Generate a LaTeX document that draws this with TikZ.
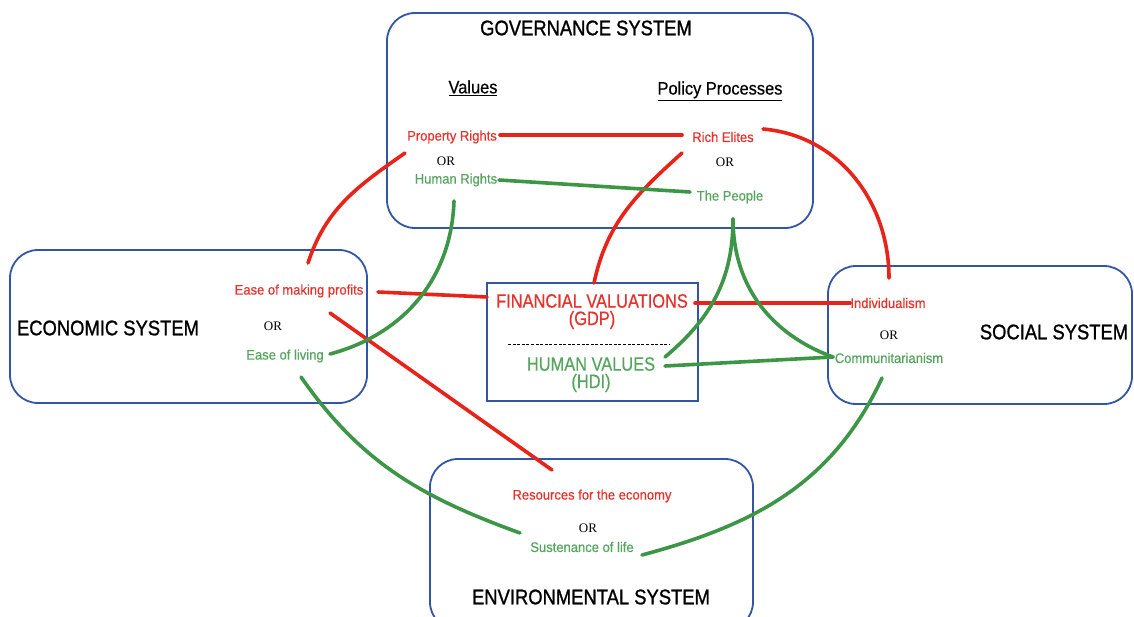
\documentclass[tikz,border=0pt]{standalone}
\usepackage{fontspec}
\setmainfont{Liberation Sans}
\newfontfamily\orfont{Liberation Serif}
\newfontfamily\titlefont[FakeBold=1.2]{Liberation Sans}
\newfontfamily\labfont[FakeBold=0.5]{Liberation Sans}
\usetikzlibrary{calc}
\definecolor{boxblue}{RGB}{50,85,165}
\definecolor{tred}{RGB}{228,50,45}
\definecolor{lred}{RGB}{232,35,25}
\definecolor{tgreen}{RGB}{85,165,95}
\definecolor{lgreen}{RGB}{60,150,70}
\newcommand\vstretchtxt[2]{\scalebox{1}[#1]{#2}}
\begin{document}
\begin{tikzpicture}[x=1pt,y=-1pt,
 sysbox/.style={draw=boxblue, line width=1.8pt, rounded corners=28pt},
 ctrbox/.style={draw=boxblue, line width=1.8pt},
 title/.style={font=\titlefont\fontsize{18.4}{20}\selectfont, inner sep=0pt},
 lab/.style={font=\labfont\fontsize{13}{15}\selectfont, inner sep=0pt},
 redlab/.style={lab, text=tred},
 greenlab/.style={lab, text=tgreen},
 orlab/.style={font=\orfont\fontsize{13}{15}\selectfont, inner sep=0pt},
 head/.style={font=\labfont\fontsize{16.4}{18}\selectfont, inner sep=0pt},
 ctrred/.style={font=\labfont\fontsize{16.4}{18}\selectfont, inner sep=0pt, text=tred},
 ctrgreen/.style={font=\labfont\fontsize{16.4}{18}\selectfont, inner sep=0pt, text=tgreen},
 rline/.style={draw=lred, line width=3.6pt, line cap=round},
 gline/.style={draw=lgreen, line width=3.6pt, line cap=round},
 dline/.style={draw=black, line width=0.9pt, dash pattern=on 3pt off 1.6pt},
]
\useasboundingbox (0,0) rectangle (1134,616);
\fill[white] (0,0) rectangle (1134,616);

% boxes
\draw[sysbox] (387,13) rectangle (813,228);
\draw[sysbox] (10,250) rectangle (367,403);
\draw[ctrbox] (487,283) rectangle (698,401);
\draw[sysbox] (828,266) rectangle (1132,404);
\draw[sysbox] (430,459) rectangle (753,630);

% governance
\node[title] (gt) at (586,28) {\vstretchtxt{1.15}{GOVERNANCE SYSTEM}};
\node[head] (val) at (473,88) {\vstretchtxt{1.1}{\underline{Values}}};
\node[head] (pp) at (720,91) {\vstretchtxt{1.1}{\underline{Policy Processes}}};
\node[redlab] (pr) at (452,137) {\vstretchtxt{1.07}{Property Rights}};
\node[orlab] (or1) at (446,161) {OR};
\node[greenlab] (hr) at (456,180) {\vstretchtxt{1.07}{Human Rights}};
\node[redlab] (re) at (723,137) {\vstretchtxt{1.07}{Rich Elites}};
\node[orlab] (or2) at (725,162) {OR};
\node[greenlab] (tp) at (730,197) {\vstretchtxt{1.07}{The People}};

% economic
\node[title] (et) at (108,328) {\vstretchtxt{1.15}{ECONOMIC SYSTEM}};
\node[redlab] (emp) at (299,291) {\vstretchtxt{1.07}{Ease of making profits}};
\node[orlab] (or3) at (273,326) {OR};
\node[greenlab] (el) at (285,356) {\vstretchtxt{1.07}{Ease of living}};

% centre
\node[ctrred] (fv) at (592,301) {\vstretchtxt{1.18}{FINANCIAL VALUATIONS}};
\node[ctrred] (gdp) at (592,320) {\vstretchtxt{1.18}{(GDP)}};
\coordinate (d1) at (508,344);
\coordinate (d2) at (670,344);
\draw[dline] (d1) -- (d2);
\node[ctrgreen] (hv) at (591,364) {\vstretchtxt{1.18}{HUMAN VALUES}};
\node[ctrgreen] (hdi) at (591,383) {\vstretchtxt{1.18}{(HDI)}};

% social
\node[redlab] (ind) at (888,303) {\vstretchtxt{1.07}{Individualism}};
\node[orlab] (or4) at (889,335) {OR};
\node[greenlab] (com) at (889,358) {\vstretchtxt{1.07}{Communitarianism}};
\node[title] (st) at (1054,332) {\vstretchtxt{1.15}{SOCIAL SYSTEM}};

% environmental
\node[redlab] (res) at (592,496) {\vstretchtxt{1.07}{Resources for the economy}};
\node[orlab] (or5) at (588,528) {OR};
\node[greenlab] (sus) at (582,547) {\vstretchtxt{1.07}{Sustenance of life}};
\node[title] (envt) at (591,597) {\vstretchtxt{1.15}{ENVIRONMENTAL SYSTEM}};

% red connectors
\draw[rline] ([shift={(48,-2)}]pr.center) -- ([shift={(-41,-2)}]re.center);
\draw[rline] ([shift={(40,-8)}]re.center) to[out=-5,in=90] ([shift={(1,-25)}]ind.center);
\draw[rline] ([shift={(-41,16)}]re.center) to[out=222,in=78] ([shift={(2,-18)}]fv.center);
\draw[rline] ([shift={(-47,16)}]pr.center) to[out=215,in=72] ([shift={(9,-28)}]emp.center);
\draw[rline] ([shift={(79,1)}]emp.center) -- ([shift={(-105,-4)}]fv.center);
\draw[rline] ([shift={(31,22)}]emp.center) -- ([shift={(-40,-26)}]res.center);
\draw[rline] ([shift={(103,2)}]fv.center) -- ([shift={(-38,0)}]ind.center);

% green connectors
\draw[gline] ([shift={(43,0)}]hr.center) -- ([shift={(-40,-5)}]tp.center);
\draw[gline] ([shift={(-2,21)}]hr.center) to[out=268,in=15] ([shift={(45,-2)}]el.center);
\draw[gline] ([shift={(3,22)}]tp.center) to[out=270,in=40] ([shift={(74,-7)}]hv.center);
\draw[gline] ([shift={(3,22)}]tp.center) to[out=270,in=160] ([shift={(-56,-1)}]com.center);
\draw[gline] ([shift={(74,2)}]hv.center) -- ([shift={(-56,-1)}]com.center);
\draw[gline] ([shift={(16,21)}]el.center) to[out=-55,in=160] ([shift={(-62,-14)}]sus.center);
\draw[gline] ([shift={(-7,20)}]com.center) to[out=245,in=15] ([shift={(60,8)}]sus.center);
\end{tikzpicture}
\end{document}
